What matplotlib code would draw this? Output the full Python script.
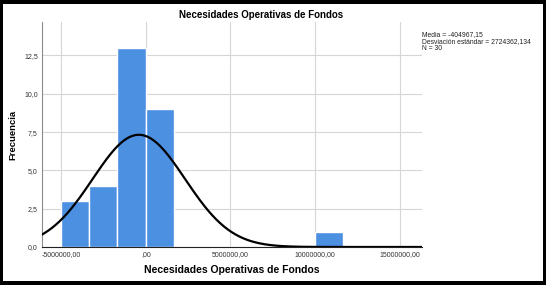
import numpy as np
import matplotlib.pyplot as plt
from matplotlib.patches import Rectangle

# Datos del histograma
bordes = [-5000000, -3333333, -1666667, 0, 1666667, 3333333,
          5000000, 6666667, 8333333, 10000000, 11666667]
frecuencias = [3, 4, 13, 9, 0, 0, 0, 0, 0, 1]

media = -404967.15
desv = 2724362.134
n = 30

xticks = [-5000000, 0, 5000000, 10000000, 15000000]
xtick_labels = ['-5000000,00', ',00', '5000000,00', '10000000,00', '15000000,00']
yticks = [0, 2.5, 5.0, 7.5, 10.0, 12.5]
ytick_labels = ['0,0', '2,5', '5,0', '7,5', '10,0', '12,5']

plt.rcParams['font.family'] = ['Liberation Sans', 'DejaVu Sans']

fig = plt.figure(figsize=(5.46, 2.85), dpi=100)
fig.patch.set_facecolor('black')
# marco negro alrededor
fig.add_artist(Rectangle((3/546, 4/285), 540/546, 277/285, transform=fig.transFigure,
                         facecolor='white', edgecolor='none', zorder=0))

ax = fig.add_axes([42/546, 1 - 247/285, 380/546, 225/285])

anchos = np.diff(bordes)
ax.bar(bordes[:-1], frecuencias, width=anchos, align='edge',
       color='#4c90e2', edgecolor='white', linewidth=1.0, zorder=2)

# Curva normal
ancho_bin = bordes[1] - bordes[0]
xs = np.linspace(-6200000, 16400000, 400)
ys = n * ancho_bin / (desv * np.sqrt(2 * np.pi)) * np.exp(-0.5 * ((xs - media) / desv) ** 2)
ax.plot(xs, ys, color='black', lw=1.6, zorder=3)

ax.set_xlim(-6120000, 16300000)
ax.set_ylim(0, 14.68)
ax.set_xticks(xticks)
ax.set_xticklabels(xtick_labels)
ax.set_yticks(yticks)
ax.set_yticklabels(ytick_labels)
ax.tick_params(length=0, labelsize=5, colors='#333333', pad=3)
ax.grid(True, color='#d6d6d6', lw=0.8, zorder=0)
ax.set_axisbelow(True)

for s in ['top', 'right']:
    ax.spines[s].set_visible(False)
ax.spines['left'].set_color('#8c8c8c')
ax.spines['bottom'].set_color('#222222')
ax.spines['left'].set_linewidth(0.8)
ax.spines['bottom'].set_linewidth(0.8)

ax.set_xlabel('Necesidades Operativas de Fondos', fontsize=7.5, fontweight='bold', labelpad=5)
ax.set_ylabel('Frecuencia', fontsize=6.8, fontweight='bold', labelpad=5)

fig.text(261/546, 1 - 15/285, 'Necesidades Operativas de Fondos', fontsize=7,
         fontweight='bold', ha='center', va='center')

# cuadro de estadisticos
fig.text(422/546, 1 - 31/285,
         'Media = -404967,15\nDesviación estándar = 2724362,134\nN = 30',
         fontsize=4.9, ha='left', va='top', linespacing=0.95, color='#222222')

fig.savefig('out.png', dpi=100, facecolor=fig.get_facecolor())
